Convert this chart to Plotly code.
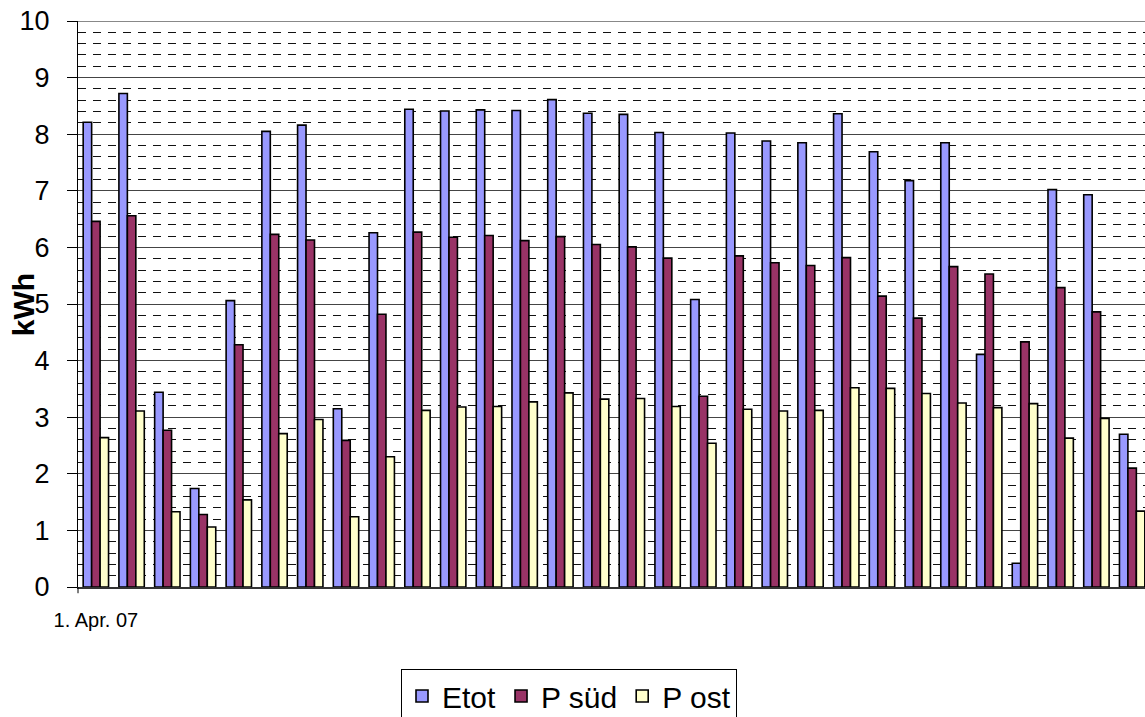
import plotly.graph_objects as go

days = ["1. Apr. 07", "2. Apr. 07", "3. Apr. 07", "4. Apr. 07", "5. Apr. 07",
        "6. Apr. 07", "7. Apr. 07", "8. Apr. 07", "9. Apr. 07", "10. Apr. 07",
        "11. Apr. 07", "12. Apr. 07", "13. Apr. 07", "14. Apr. 07", "15. Apr. 07",
        "16. Apr. 07", "17. Apr. 07", "18. Apr. 07", "19. Apr. 07", "20. Apr. 07",
        "21. Apr. 07", "22. Apr. 07", "23. Apr. 07", "24. Apr. 07", "25. Apr. 07",
        "26. Apr. 07", "27. Apr. 07", "28. Apr. 07", "29. Apr. 07", "30. Apr. 07"]

etot = [8.21, 8.72, 3.44, 1.74, 5.06, 8.05, 8.16, 3.15, 6.26, 8.44,
        8.41, 8.43, 8.42, 8.61, 8.37, 8.35, 8.03, 5.08, 8.02, 7.88,
        7.85, 8.36, 7.69, 7.18, 7.85, 4.11, 0.42, 7.02, 6.93, 2.70]
p_sued = [6.46, 6.56, 2.77, 1.28, 4.28, 6.23, 6.13, 2.59, 4.82, 6.27,
          6.18, 6.21, 6.12, 6.19, 6.05, 6.01, 5.81, 3.37, 5.85, 5.73,
          5.68, 5.82, 5.14, 4.75, 5.66, 5.53, 4.33, 5.29, 4.86, 2.10]
p_ost = [2.64, 3.11, 1.33, 1.06, 1.54, 2.71, 2.96, 1.24, 2.30, 3.12,
         3.18, 3.19, 3.27, 3.43, 3.32, 3.33, 3.19, 2.54, 3.14, 3.11,
         3.12, 3.52, 3.51, 3.42, 3.25, 3.17, 3.24, 2.63, 2.98, 1.34]

series_names = ["Etot", "P süd", "P ost"]
series_colors = ["#9999FF", "#993366", "#FFFFCC"]
y_title = "kWh"
first_label = days[0]

FONT = "Liberation Sans, Arial, sans-serif"

fig = go.Figure()
for name, vals, col in zip(series_names, [etot, p_sued, p_ost], series_colors):
    fig.add_trace(go.Bar(
        x=days, y=vals, name=name,
        marker=dict(color=col, line=dict(color="black", width=1.6)),
    ))

fig.update_layout(
    width=1145, height=717,
    margin=dict(l=78, r=0, t=21, b=130, autoexpand=False),
    paper_bgcolor="white", plot_bgcolor="white",
    barmode="group", bargap=0.29, bargroupgap=0,
    font=dict(family=FONT, color="black"),
    showlegend=True,
    legend=dict(
        orientation="h", xref="container", x=569 / 1145, xanchor="center",
        yref="container", y=(717 - 669) / 717, yanchor="top",
        bordercolor="black", borderwidth=1, bgcolor="white",
        font=dict(size=30, family=FONT, color="black"),
        itemclick=False, tracegroupgap=0,
    ),
)

fig.update_xaxes(
    type="category",
    range=[-0.5, 29.36],
    tickmode="array", tickvals=[first_label], ticktext=[first_label],
    ticks="", ticklabelstandoff=14,
    tickfont=dict(size=20, family=FONT, color="black"),
    showgrid=False,
    showline=True, linecolor="#333333", linewidth=1.5,
    zeroline=False, automargin=False,
)

fig.update_yaxes(
    range=[0, 10], dtick=1, tick0=0,
    ticks="outside", ticklen=10, tickcolor="black", tickwidth=1,
    ticklabelstandoff=12,
    tickfont=dict(size=27, family=FONT, color="black"),
    showgrid=True, gridcolor="#444444", gridwidth=1,
    showline=True, linecolor="black", linewidth=1,
    zeroline=False, automargin=False,
    minor=dict(dtick=0.2, tick0=0, showgrid=True, gridcolor="#111111",
               gridwidth=1, griddash="8px,7px", ticks=""),
)

# frame top border and small x tick at the axis start
fig.add_shape(type="line", xref="paper", yref="y", x0=0, x1=1, y0=10, y1=10,
              line=dict(color="#888888", width=2), layer="above")
fig.add_shape(type="line", xref="paper", yref="paper", x0=0, x1=0, y0=0, y1=-0.011,
              line=dict(color="black", width=1))

fig.add_annotation(
    text="<b>" + y_title + "</b>", textangle=-90,
    xref="paper", yref="paper", x=-0.0515, y=0.498,
    xanchor="center", yanchor="middle", showarrow=False,
    font=dict(size=30, family=FONT, color="black"),
)

fig.write_html("out.html", config={"displayModeBar": False})

with open("out.html", "r", encoding="utf-8") as f:
    html = f.read()
html = html.replace("<body>", "<body style=\"margin:0;padding:0;overflow:hidden\">", 1)
with open("out.html", "w", encoding="utf-8") as f:
    f.write(html)
